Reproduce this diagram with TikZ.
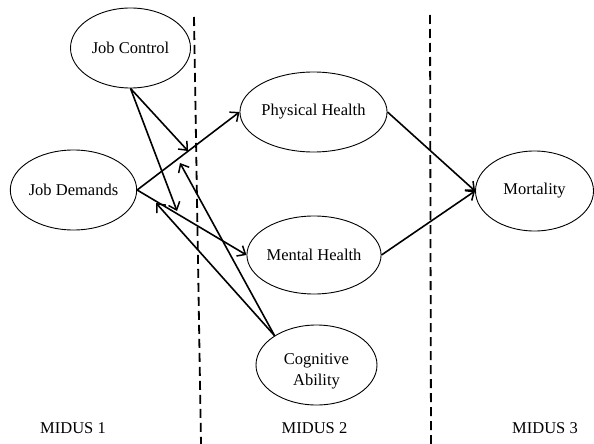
\documentclass[tikz,border=0pt]{standalone}
\usepackage{fontspec}
\setmainfont{Liberation Serif}
\usetikzlibrary{shapes.geometric,arrows.meta}
\begin{document}
\begin{tikzpicture}[x=1pt,y=-1pt,
  var/.style={ellipse,draw,line width=0.9pt,minimum width=120pt,minimum height=80pt,inner sep=0pt,
    font=\fontsize{16.5}{20}\selectfont,align=center},
  txt/.style={font=\fontsize{16.5}{21}\selectfont,align=center,inner sep=0pt},
  path/.style={line width=1.6pt,-{Straight Barb[length=7pt,width=12pt,line width=1.5pt]}},
  sep/.style={line width=1.8pt,dash pattern=on 9pt off 5pt},
  wave/.style={font=\fontsize{16.5}{20}\selectfont}]
\useasboundingbox (0,0) rectangle (594,444);
% wave separators
\coordinate (s1t) at (194,17);
\coordinate (s1b) at (201,444);
\coordinate (s2t) at (430,15);
\coordinate (s2b) at (431,444);
\draw[sep] (s1t) -- (s1b);
\draw[sep] (s2t) -- (s2b);
% variables
\node[var] (jc) at (130.5,48) {Job Control};
\node[var,minimum width=119pt] (jd) at (73.5,190) {Job Demands};
\node[var,minimum width=121pt] (ph) at (313.5,112) {Physical Health};
\node[var,minimum width=121pt,minimum height=78pt] (mh) at (314,255) {Mental Health};
\node[var,minimum width=121pt] (ca) at (316.5,365) {};
\node[txt] (catext) at (316.5,371) {Cognitive\\Ability};
\node[var,minimum width=118pt] (mort) at (534.5,191) {Mortality};
% wave labels
\node[wave] (w1) at (73,428) {MIDUS 1};
\node[wave] (w2) at (314.5,428) {MIDUS 2};
\node[wave] (w3) at (545,428) {MIDUS 3};
% main paths
\draw[path] (jd.east) -- (ph.west);
\draw[path] (jd.east) -- (mh.west);
\draw[path] (ph.east) -- (mort.west);
\draw[path] (mh.east) -- (mort.west);
% moderation paths
\coordinate (m1) at (188,151);
\coordinate (m2) at (177,211);
\coordinate (m3) at (180,163);
\coordinate (m4) at (156,203);
\draw[path] (jc.south) -- (m1);
\draw[path] (jc.south) -- (m2);
\draw[path] (ca.145) -- (m3);
\draw[path] (ca.145) -- (m4);
\end{tikzpicture}
\end{document}
